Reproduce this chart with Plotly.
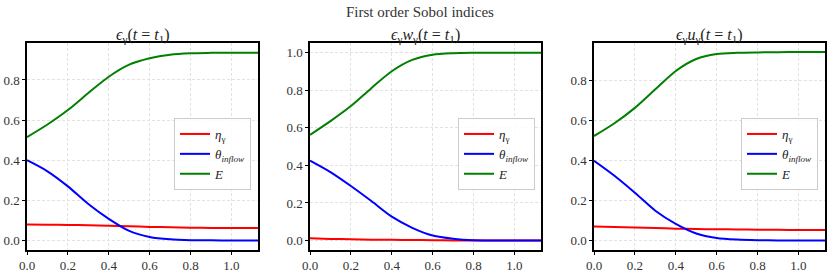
import plotly.graph_objects as go

t = [0.0, 0.1, 0.2, 0.3, 0.4, 0.5, 0.6, 0.7, 0.8, 0.9, 1.0, 1.13]

# Panel 1: eps_gamma
p1_eta = [0.080, 0.079, 0.078, 0.076, 0.074, 0.071, 0.068, 0.066, 0.064, 0.063, 0.062, 0.062]
p1_theta = [0.400, 0.345, 0.270, 0.182, 0.108, 0.048, 0.018, 0.006, 0.002, 0.001, 0.000, 0.000]
p1_E = [0.515, 0.578, 0.650, 0.735, 0.816, 0.876, 0.908, 0.926, 0.933, 0.935, 0.936, 0.936]

# Panel 2: eps_gamma w_gamma
p2_eta = [0.012, 0.009, 0.007, 0.005, 0.004, 0.003, 0.002, 0.001, 0.000, 0.000, 0.000, 0.000]
p2_theta = [0.425, 0.364, 0.290, 0.210, 0.127, 0.068, 0.027, 0.010, 0.002, 0.001, 0.000, 0.000]
p2_E = [0.562, 0.635, 0.715, 0.810, 0.900, 0.960, 0.988, 0.996, 0.998, 0.998, 0.998, 0.998]

# Panel 3: eps_gamma u_gamma
p3_eta = [0.071, 0.068, 0.066, 0.063, 0.060, 0.058, 0.057, 0.056, 0.055, 0.054, 0.053, 0.053]
p3_theta = [0.400, 0.325, 0.240, 0.150, 0.084, 0.036, 0.013, 0.005, 0.002, 0.001, 0.000, 0.000]
p3_E = [0.524, 0.588, 0.665, 0.758, 0.850, 0.910, 0.935, 0.941, 0.943, 0.944, 0.945, 0.945]

titles = ["<i>ϵ</i><sub>γ</sub>(<i>t</i> = <i>t</i><sub>1</sub>)",
          "<i>ϵ</i><sub>γ</sub><i>w</i><sub>γ</sub>(<i>t</i> = <i>t</i><sub>1</sub>)",
          "<i>ϵ</i><sub>γ</sub><i>u</i><sub>γ</sub>(<i>t</i> = <i>t</i><sub>1</sub>)"]
names = ["<i>η</i><sub>γ</sub>", "<i>θ</i><sub><i>inflow</i></sub>", "<i>E</i>"]
colors = ["#ff0000", "#0000ff", "#008000"]
xticks = [0.0, 0.2, 0.4, 0.6, 0.8, 1.0]

W, H = 831, 273


def px(x):
    return x / W


def py(y):
    return 1 - y / H


FONT = "Liberation Serif"
panels = [(p1_eta, p1_theta, p1_E), (p2_eta, p2_theta, p2_E), (p3_eta, p3_theta, p3_E)]
xdom = [(27, 258), (310, 541), (594, 825)]
yranges = [(-0.047, 0.984), (-0.05, 1.05), (-0.047, 0.99)]
legx = [251, 535, 818]
ytop, ybot = 43, 250

fig = go.Figure()
layout = dict(width=W, height=H, margin=dict(l=0, r=0, t=0, b=0, autoexpand=False),
              plot_bgcolor="white", paper_bgcolor="white",
              font=dict(family=FONT, size=12, color="#222"))
annotations = [dict(text="First order Sobol indices", x=px(420), y=py(12), xref="paper", yref="paper",
                    showarrow=False, font=dict(size=15, family=FONT, color="#333"), xanchor="center", yanchor="middle")]
for i, (series, dom, yr) in enumerate(zip(panels, xdom, yranges)):
    ax = "" if i == 0 else str(i + 1)
    leg = "legend" if i == 0 else f"legend{i + 1}"
    for name, vals, col in zip(names, series, colors):
        fig.add_trace(go.Scatter(x=t, y=vals, mode="lines", name=name,
                                 line=dict(color=col, width=2, shape="spline", smoothing=0.8),
                                 xaxis="x" + ax, yaxis="y" + ax, legend=leg))
    common = dict(showline=True, linecolor="black", linewidth=1.5, mirror=True, ticks="outside", ticklen=3,
                  tickcolor="black", showgrid=True, gridcolor="#e2e2e2", griddash="3px,2px", gridwidth=0.8,
                  zeroline=False, tickfont=dict(family=FONT, size=13, color="#333"), tickformat=".1f",
                  automargin=False)
    layout["xaxis" + ax] = dict(common, domain=[px(dom[0]), px(dom[1])], range=[0, 1.13], tickvals=xticks,
                                anchor="y" + ax)
    layout["yaxis" + ax] = dict(common, domain=[py(ybot), py(ytop)], range=list(yr), dtick=0.2,
                                anchor="x" + ax)
    layout[leg] = dict(x=px(legx[i]), y=py(118), xanchor="right", yanchor="top", xref="paper", yref="paper",
                       bgcolor="rgba(255,255,255,0.85)", bordercolor="#cccccc", borderwidth=1,
                       font=dict(family=FONT, size=13, color="#222"), tracegroupgap=0, itemwidth=30)
    annotations.append(dict(text=titles[i], x=px((dom[0] + dom[1]) / 2), y=py(35), xref="paper", yref="paper",
                            showarrow=False, font=dict(size=16, family=FONT, color="#222"),
                            xanchor="center", yanchor="middle"))
layout["annotations"] = annotations
fig.update_layout(**layout)
# remove the default 8px page margin so the figure fills the window exactly
fig.write_html("out.html", config={"displayModeBar": False},
               post_script="document.body.style.margin='0';document.body.style.padding='0';")
